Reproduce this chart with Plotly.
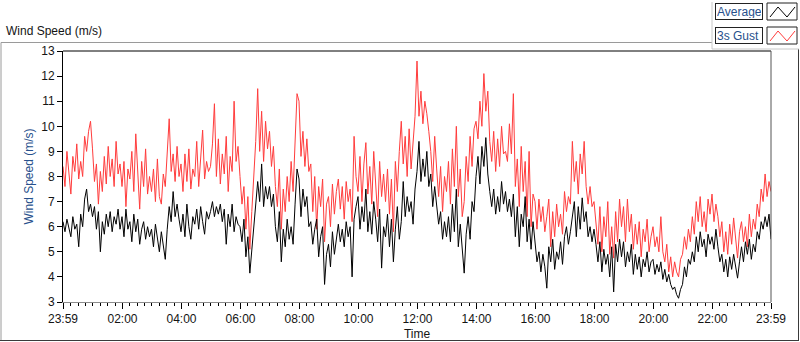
import pandas as pd
import plotly.graph_objects as go

# ---------------- data (sampled every 4 minutes, 23:59 -> 23:59) ----------------
start_time = "2015-06-01 23:59"
n_points = 361
sample_step = "4min"

average = [
    6.2, 5.8, 6.3, 6.0, 5.6, 6.4, 5.9, 6.1, 5.2, 6.5, 6.0, 7.1, 7.5, 6.6, 6.9,
    6.4, 6.8, 5.9, 6.6, 5.0, 6.2, 5.7, 6.5, 6.0, 6.6, 5.8, 6.4, 6.1, 6.7, 5.9,
    6.4, 5.6, 6.7, 5.9, 6.2, 5.4, 6.5, 5.8, 6.3, 5.3, 5.9, 6.2, 5.5, 6.0, 5.6,
    5.9, 5.2, 6.1, 5.6, 5.0, 5.8, 5.3, 4.7, 5.9, 6.8, 6.2, 7.4, 6.4, 6.9, 6.3,
    5.8, 6.5, 5.6, 6.9, 6.0, 5.5, 6.4, 6.1, 6.7, 5.9, 6.8, 6.2, 5.7, 6.6, 6.3,
    6.6, 7.0, 6.4, 6.8, 6.5, 6.9, 6.2, 6.7, 5.3, 6.5, 6.0, 6.9, 5.8, 6.4, 6.1,
    6.0, 5.4, 6.3, 4.8, 5.6, 4.15, 5.0, 5.8, 6.9, 7.8, 7.0, 8.5, 6.8, 7.6, 7.1,
    7.6, 6.8, 7.3, 6.0, 5.4, 6.6, 4.6, 5.9, 5.2, 6.3, 5.5, 6.0, 5.3, 6.9, 8.3,
    7.9, 6.4, 7.5, 6.8, 7.2, 6.0, 6.2, 5.3, 5.9, 6.3, 4.8, 5.6, 6.0, 3.7, 4.9,
    5.3, 4.4, 5.8, 4.9, 5.5, 6.1, 5.4, 5.9, 5.2, 6.2, 5.6, 6.0, 4.0, 6.3, 6.8,
    7.2, 5.9, 6.8, 6.2, 7.5, 5.8, 6.6, 5.7, 7.0, 6.3, 5.4, 6.7, 4.35, 6.0, 5.6,
    6.5, 5.2, 6.3, 4.6, 5.9, 6.8, 5.5, 6.2, 7.8, 6.4, 7.2, 6.6, 7.0, 6.1, 7.5,
    8.2, 9.4, 7.8, 8.7, 8.0, 9.0, 7.6, 8.1, 6.8, 7.6, 6.7, 6.1, 6.6, 5.5, 6.2,
    5.6, 6.4, 5.4, 6.9, 5.8, 7.5, 5.2, 6.1, 4.9, 4.15, 5.7, 6.4, 5.5, 7.0, 6.6,
    8.0, 8.8, 7.7, 9.2, 8.4, 9.55, 8.1, 7.4, 6.8, 7.5, 6.5, 7.2, 6.6, 7.8, 6.9,
    7.4, 6.6, 7.1, 6.4, 7.3, 5.6, 6.8, 5.2, 6.5, 6.0, 7.2, 5.4, 6.3, 5.1, 6.2,
    5.5, 4.6, 5.0, 4.2, 4.9, 4.4, 3.55, 5.2, 4.6, 5.5, 4.3, 5.0, 4.7, 5.4, 4.5,
    5.6, 6.0, 5.3, 5.8, 6.4, 7.0, 5.6, 6.8, 5.9, 7.15, 6.2, 6.6, 5.6, 6.0, 5.4,
    5.9, 5.3, 4.6, 5.4, 4.2, 5.1, 4.5, 4.9, 4.0, 5.2, 3.4, 5.3, 4.6, 5.5, 4.8,
    5.4, 4.4, 5.0, 4.6, 5.3, 4.1, 4.9, 4.3, 4.8, 4.0, 4.7, 4.4, 5.0, 4.2, 4.6,
    4.7, 4.1, 4.5, 4.2, 4.6, 3.9, 4.3, 3.8, 4.1, 3.7, 3.5, 3.6, 3.3, 3.15, 3.5,
    3.7, 4.4, 4.0, 4.7, 4.5, 5.0, 4.6, 5.6, 5.0, 5.8, 5.2, 5.5, 4.8, 5.7, 5.3,
    5.6, 5.1, 5.9, 5.2, 4.6, 4.9, 4.2, 4.7, 4.0, 4.8, 4.3, 4.9, 4.5, 3.95, 4.6,
    5.2, 4.6, 5.4, 4.9, 5.5, 4.7, 5.3, 5.0, 5.8, 5.5, 6.2, 5.9, 6.4, 6.0, 6.5, 5.5,
]

gust_3s = [
    8.4, 7.6, 9.0, 8.1, 7.3, 8.8, 8.2, 9.3, 7.9, 8.6, 8.0, 9.6, 9.0, 9.8, 10.2,
    9.1, 7.8, 8.5, 6.9, 8.2, 7.4, 8.8, 7.7, 9.2, 8.0, 8.7, 7.6, 9.4, 8.1, 8.5,
    7.6, 8.6, 6.8, 8.3, 7.9, 9.0, 7.4, 9.7, 8.2, 6.7, 8.6, 7.6, 9.1, 7.3, 8.0,
    7.4, 8.3, 7.0, 8.7, 7.2, 6.9, 8.1, 7.6, 9.0, 10.3, 8.2, 8.9, 7.8, 9.2, 8.0,
    8.5, 7.4, 8.9, 7.8, 9.1, 7.5, 8.3, 8.0, 9.4, 7.6, 8.8, 9.85, 7.9, 8.6, 8.2,
    8.4, 9.3, 10.9, 8.0, 9.5, 7.7, 8.9, 8.1, 9.6, 7.4, 8.8, 8.2, 11.0, 8.6, 9.2,
    8.0, 6.9, 7.6, 5.9, 7.2, 5.1, 6.6, 7.9, 9.4, 11.5, 9.0, 10.6, 8.6, 10.2, 9.1,
    9.8, 8.4, 9.2, 7.6, 6.8, 8.3, 5.9, 7.5, 6.6, 8.0, 7.0, 8.6, 7.4, 9.1, 11.3,
    11.0, 8.8, 9.8, 8.4, 9.5, 8.2, 8.5, 6.6, 8.0, 5.9, 7.6, 6.8, 7.9, 5.4, 6.9,
    7.2, 6.0, 7.7, 6.5, 7.4, 7.9, 6.7, 7.6, 6.3, 7.8, 7.0, 7.5, 6.2, 9.6, 8.0,
    7.4, 8.8, 7.0, 8.5, 9.35, 7.3, 8.4, 6.9, 9.0, 7.6, 6.4, 8.6, 7.2, 8.1, 7.0,
    8.3, 6.5, 7.9, 5.8, 8.6, 7.4, 9.0, 10.2, 8.5, 9.6, 8.0, 9.9, 8.3, 9.4, 10.4,
    12.6, 10.4, 11.4, 10.1, 11.0, 10.5, 9.8, 9.0, 7.8, 9.6, 8.3, 7.2, 8.4, 6.6, 8.0,
    7.4, 8.6, 6.9, 9.1, 7.6, 10.0, 7.2, 8.3, 6.4, 7.0, 8.8, 7.8, 9.6, 8.4, 9.9,
    10.2, 9.5, 11.0, 10.0, 12.1, 10.6, 11.4, 9.4, 8.6, 9.8, 8.2, 9.5, 8.4, 10.0, 8.9,
    9.0, 8.6, 10.1, 8.9, 11.3, 7.6, 8.7, 6.8, 9.2, 7.4, 8.6, 6.4, 9.0, 6.0, 7.3,
    7.0, 5.9, 7.1, 6.2, 6.8, 5.8, 6.4, 7.1, 5.2, 6.6, 5.6, 6.9, 6.0, 6.5, 5.7,
    7.4, 6.6, 7.2, 6.9, 9.4, 7.8, 8.6, 7.3, 8.9, 8.1, 9.4, 7.6, 6.9, 7.6, 6.8,
    7.0, 6.1, 5.3, 6.8, 5.0, 6.4, 5.6, 7.0, 4.9, 6.0, 4.75, 6.6, 5.4, 7.1, 6.0,
    6.8, 5.4, 7.1, 5.8, 6.5, 5.1, 6.1, 5.3, 6.2, 4.8, 5.9, 5.4, 6.3, 5.0, 5.6,
    6.0, 5.2, 5.6, 5.0, 6.4, 5.0, 4.6, 5.3, 4.2, 4.8, 4.0, 4.6, 4.2, 4.0, 4.7,
    4.9, 5.6, 5.1, 5.9, 5.4, 6.4, 5.7, 7.0, 6.2, 7.2, 6.0, 6.6, 5.8, 7.1, 6.5,
    7.3, 6.2, 6.9, 6.4, 5.6, 6.2, 5.0, 5.8, 4.9, 6.1, 5.3, 6.35, 5.6, 4.75, 5.8,
    6.2, 5.4, 6.0, 5.2, 6.5, 5.6, 6.3, 5.9, 6.9, 6.4, 7.5, 7.0, 8.1, 7.2, 7.8, 7.4,
]

tick_values = ["2015-06-01 23:59", "2015-06-02 02:00", "2015-06-02 04:00",
               "2015-06-02 06:00", "2015-06-02 08:00", "2015-06-02 10:00",
               "2015-06-02 12:00", "2015-06-02 14:00", "2015-06-02 16:00",
               "2015-06-02 18:00", "2015-06-02 20:00", "2015-06-02 22:00",
               "2015-06-02 23:59"]
tick_labels = ["23:59", "02:00", "04:00", "06:00", "08:00", "10:00", "12:00",
               "14:00", "16:00", "18:00", "20:00", "22:00", "23:59"]
y_ticks = [3, 4, 5, 6, 7, 8, 9, 10, 11, 12, 13]

series_names = ["Average", "3s Gust"]
series_colors = ["#000000", "#ff3c3c"]

times = pd.date_range(start_time, periods=n_points, freq=sample_step)

# ---------------- layout geometry ----------------
W, H = 800, 342
L, R, T, B = 63, 771, 51, 302
FONT = "Liberation Sans, Arial, sans-serif"
TXT = "#141414"
BLUE = "#27508c"


def px(x):
    return (x - L) / (R - L)


def py(y):
    return (B - y) / (B - T)


fig = go.Figure()
# gust first so the average is drawn on top
for name, vals, col in zip(series_names[::-1], [gust_3s, average], series_colors[::-1]):
    fig.add_trace(go.Scatter(x=times, y=vals, mode="lines", name=name,
                             line=dict(color=col, width=1), showlegend=False,
                             hoverinfo="skip"))

fig.update_layout(
    width=W, height=H,
    margin=dict(l=L, r=W - R, t=T, b=H - B, pad=0),
    paper_bgcolor="white", plot_bgcolor="white",
    font=dict(family=FONT, size=12, color=TXT),
)
fig.update_xaxes(
    automargin=False,
    range=[times[0], times[-1]],
    tickmode="array", tickvals=tick_values, ticktext=tick_labels,
    ticks="outside", ticklen=6, tickcolor="black", tickwidth=1,
    minor=dict(ticks="outside", ticklen=3, tickcolor="black",
               dtick=15 * 60 * 1000, tick0="2015-06-02 00:00"),
    showgrid=False, zeroline=False,
    showline=True, linecolor="#8c8c8c", linewidth=1,
    title=dict(text="Time", standoff=4, font=dict(size=12, color=TXT)),
    tickfont=dict(size=12, color=TXT),
)
fig.update_yaxes(
    automargin=False,
    range=[3, 13], tickmode="array", tickvals=y_ticks,
    ticks="outside", ticklen=5, tickcolor="black",
    showgrid=False, zeroline=False,
    showline=True, linecolor="black", linewidth=1,
    title=dict(text="Wind Speed (m/s)", standoff=5, font=dict(size=12, color=BLUE)),
    tickfont=dict(size=12, color=TXT),
)

shapes = []


def line(x0, y0, x1, y1, color, width=1):
    shapes.append(dict(type="line", xref="paper", yref="paper",
                       x0=px(x0), y0=py(y0), x1=px(x1), y1=py(y1),
                       line=dict(color=color, width=width)))


# plot frame top (black) and right (dark grey)
line(L, T, R, T, "black")
line(R, T, R, B, "#555555")
# outer panel frame
line(1, 42.5, 712, 42.5, "#9a9a9a")
line(1, 42.5, 1, 340.5, "#9a9a9a")
line(0, 340.5, 799, 340.5, "#3a3a3a")
line(798.5, 49, 798.5, 340.5, "#3a3a3a")
# legend panel border
line(712, 2, 712, 49, "#c8c8c8")
line(712, 49, 799, 49, "#c8c8c8")

annotations = [dict(text="Wind Speed (m/s)", xref="paper", yref="paper",
                    x=px(4), y=py(31), xanchor="left", yanchor="middle",
                    showarrow=False, font=dict(size=12, color=TXT))]

legend_rows = [(3, 20), (27, 44)]
for (y0, y1), name, col in zip(legend_rows, series_names, series_colors):
    annotations.append(dict(text=name, xref="paper", yref="paper",
                            x=px(715), y=py((y0 + y1) / 2), xanchor="left",
                            yanchor="middle", showarrow=False, align="left",
                            width=44, height=13, borderpad=1,
                            bordercolor="#222222", borderwidth=1, bgcolor="white",
                            font=dict(size=12, color=BLUE)))
    shapes.append(dict(type="rect", xref="paper", yref="paper",
                       x0=px(767), y0=py(y1), x1=px(797), y1=py(y0),
                       line=dict(color="#222222", width=1), fillcolor="white"))
    zig = [(770, y1 - 3), (778, y0 + 4), (787, y1 - 3), (795, y0 + 4)]
    path = "M " + " L ".join(f"{px(a)},{py(b)}" for a, b in zig)
    shapes.append(dict(type="path", xref="paper", yref="paper", path=path,
                       line=dict(color=col, width=1)))

fig.update_layout(shapes=shapes, annotations=annotations)
fig.write_html("out.html",
               config={"displayModeBar": False, "staticPlot": True},
               post_script="document.body.style.margin='0';document.body.style.overflow='hidden';")
